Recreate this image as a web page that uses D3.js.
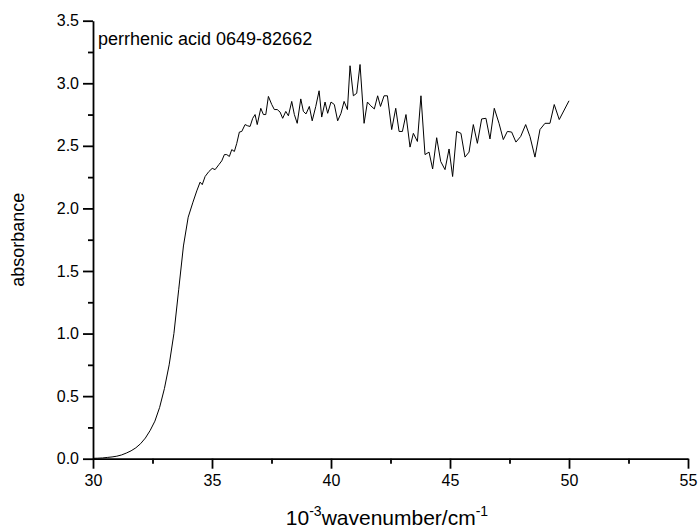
<!DOCTYPE html>
<html>
<head>
<meta charset="utf-8">
<script src="https://cdn.jsdelivr.net/npm/d3@7"></script>
<style>
  html, body { margin: 0; padding: 0; background: #fff; }
  svg { display: block; font-family: "Liberation Sans", Arial, sans-serif; }
  .axis path, .axis line { stroke: #000; stroke-width: 1.8px; }
  .axis text { fill: #000; font-size: 16px; }
</style>
</head>
<body>
<div id="chart"></div>
<script>
// Spectrum (x in 10^3 cm^-1)
const wavenumber = [
  30.0, 30.2, 30.4, 30.6, 30.8, 31.0, 31.2, 31.4, 31.6, 31.8, 32.0, 32.2,
  32.4, 32.6, 32.8, 33.0, 33.2, 33.4, 33.6, 33.8, 34.0, 34.2, 34.36,
  34.50, 34.59, 34.71, 34.87, 35.01, 35.13, 35.29, 35.41, 35.52, 35.62,
  35.73, 35.83, 35.94, 36.04, 36.15, 36.25, 36.39, 36.50, 36.60, 36.71,
  36.81, 36.90, 37.05, 37.16, 37.26, 37.37, 37.51, 37.62, 37.74, 37.86,
  37.97, 38.10, 38.21, 38.35, 38.46, 38.58, 38.73, 38.84, 38.95, 39.09,
  39.21, 39.36, 39.50, 39.61, 39.75, 39.86, 40.00, 40.14, 40.28, 40.42,
  40.55, 40.69, 40.80, 40.94, 41.08, 41.22, 41.39, 41.53, 41.67, 41.82,
  41.96, 42.08, 42.23, 42.37, 42.55, 42.72, 42.86, 43.00, 43.15, 43.32,
  43.46, 43.63, 43.78, 43.95, 44.12, 44.27, 44.44, 44.61, 44.79, 44.96,
  45.11, 45.28, 45.46, 45.63, 45.80, 45.98, 46.15, 46.33, 46.51, 46.68,
  46.86, 47.06, 47.24, 47.41, 47.59, 47.77, 47.97, 48.18, 48.36, 48.57,
  48.78, 48.99, 49.20, 49.38, 49.59, 50.00
];
const absorbance = [
  0.003, 0.004, 0.006, 0.010, 0.014, 0.020, 0.030, 0.045, 0.063, 0.087, 0.12, 0.165,
  0.225, 0.30, 0.41, 0.56, 0.75, 1.00, 1.35, 1.70, 1.93, 2.05, 2.14,
  2.21, 2.19, 2.255, 2.295, 2.32, 2.31, 2.35, 2.38, 2.43, 2.43,
  2.415, 2.47, 2.455, 2.52, 2.61, 2.615, 2.67, 2.66, 2.655, 2.72,
  2.75, 2.67, 2.80, 2.75, 2.75, 2.895, 2.83, 2.79, 2.79, 2.77,
  2.72, 2.775, 2.74, 2.855, 2.75, 2.68, 2.875, 2.775, 2.755, 2.815,
  2.70, 2.815, 2.94, 2.73, 2.85, 2.76, 2.85, 2.83, 2.70, 2.76,
  2.855, 2.79, 3.14, 2.90, 2.92, 3.15, 2.68, 2.85, 2.82, 2.795,
  2.90, 2.815, 2.90, 2.90, 2.63, 2.80, 2.615, 2.615, 2.75, 2.49,
  2.60, 2.535, 2.90, 2.43, 2.45, 2.315, 2.565, 2.375, 2.31, 2.475,
  2.255, 2.615, 2.60, 2.41, 2.45, 2.67, 2.52, 2.715, 2.72, 2.555,
  2.80, 2.68, 2.55, 2.615, 2.61, 2.53, 2.575, 2.67, 2.575, 2.41,
  2.63, 2.68, 2.68, 2.83, 2.71, 2.86
];

// Tick values
const xMajorTicks = [30, 35, 40, 45, 50, 55];
const xMinorTicks = [32.5, 37.5, 42.5, 47.5, 52.5];
const yMajorTicks = [0, 0.5, 1.0, 1.5, 2.0, 2.5, 3.0, 3.5];
const yMinorTicks = [0.25, 0.75, 1.25, 1.75, 2.25, 2.75, 3.25];

const titleText = "perrhenic acid 0649-82662";

function createChart() {
  const width = 700;
  const height = 530;
  const marginTop = 20.7;
  const marginRight = 12;
  const marginBottom = 71.3;
  const marginLeft = 93;

  const data = wavenumber.map((w, i) => ({ x: w, y: absorbance[i] }));

  const x = d3.scaleLinear()
      .domain([30, 55])
      .range([marginLeft, width - marginRight]);

  const y = d3.scaleLinear()
      .domain([0, 3.5])
      .range([height - marginBottom, marginTop]);

  const svg = d3.select("#chart")
      .append("svg")
      .attr("width", width)
      .attr("height", height)
      .attr("viewBox", [0, 0, width, height]);

  // Minor ticks first so the main spine sits on top
  svg.append("g")
      .attr("class", "axis")
      .attr("transform", `translate(0,${height - marginBottom})`)
      .call(d3.axisBottom(x).tickValues(xMinorTicks).tickSize(5).tickSizeOuter(0).tickFormat(""))
      .call(g => g.select(".domain").remove());

  svg.append("g")
      .attr("class", "axis")
      .attr("transform", `translate(${marginLeft},0)`)
      .call(d3.axisLeft(y).tickValues(yMinorTicks).tickSize(5).tickSizeOuter(0).tickFormat(""))
      .call(g => g.select(".domain").remove());

  svg.append("g")
      .attr("class", "axis")
      .attr("transform", `translate(0,${height - marginBottom})`)
      .call(d3.axisBottom(x).tickValues(xMajorTicks).tickSize(10).tickSizeOuter(0).tickPadding(6)
        .tickFormat(d3.format("d")));

  svg.append("g")
      .attr("class", "axis")
      .attr("transform", `translate(${marginLeft},0)`)
      .call(d3.axisLeft(y).tickValues(yMajorTicks).tickSize(10).tickSizeOuter(0).tickPadding(4)
        .tickFormat(d3.format(".1f")));

  // The spectrum
  const line = d3.line()
      .x(d => x(d.x))
      .y(d => y(d.y));

  svg.append("path")
      .datum(data)
      .attr("fill", "none")
      .attr("stroke", "#000")
      .attr("stroke-width", 1)
      .attr("stroke-linejoin", "miter")
      .attr("d", line);

  // Title inside the plot
  svg.append("text")
      .attr("x", 98)
      .attr("y", 45)
      .style("font-size", "18px")
      .style("fill", "#000")
      .text(titleText);

  // Y axis label
  svg.append("text")
      .attr("transform", `translate(24,${(marginTop + height - marginBottom) / 2}) rotate(-90)`)
      .attr("text-anchor", "middle")
      .style("font-size", "18px")
      .style("fill", "#000")
      .text("absorbance");

  // X axis label with superscripts
  const xl = svg.append("text")
      .attr("x", 387)
      .attr("y", 525)
      .attr("text-anchor", "middle")
      .style("font-size", "21px")
      .style("fill", "#000");
  xl.append("tspan").text("10");
  xl.append("tspan").attr("dy", -9).style("font-size", "14px").text("-3");
  xl.append("tspan").attr("dy", 9).text("wavenumber/cm");
  xl.append("tspan").attr("dy", -9).style("font-size", "14px").text("-1");
}

document.addEventListener("DOMContentLoaded", createChart);
</script>
</body>
</html>
